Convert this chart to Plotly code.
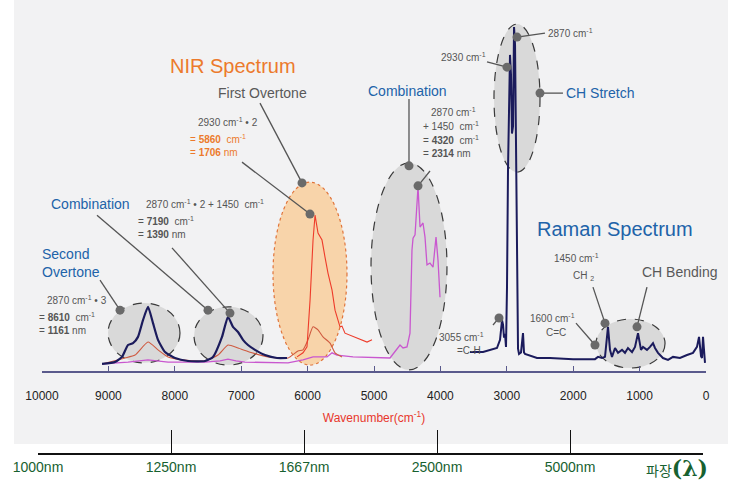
import plotly.graph_objects as go

# ---------------- data (wavenumber cm-1, relative intensity) ----------------
nir_navy_wn = [9096, 8900, 8795, 8705, 8629, 8554, 8479, 8403, 8328, 8253, 8147, 7997, 7801,
               7545, 7425, 7289, 7199, 7124, 7048, 6973, 6898, 6792, 6641, 6461, 6310]
nir_navy_int = [1.9, 2.4, 3.8, 7.0, 7.5, 9.2, 13.7, 17.3, 12.9, 8.4, 5.1, 3.5, 2.7,
                2.7, 3.8, 9.2, 14.6, 11.9, 10.5, 8.4, 7.0, 5.7, 4.3, 3.5, 3.5]

nir_brown_wn = [9096, 8750, 8599, 8403, 8253, 8102, 7891, 7545, 7349, 7199, 7048, 6837, 6596,
                6295, 6145, 6069, 5994, 5918, 5843, 5768, 5662, 5587, 5482]
nir_brown_int = [1.9, 3.5, 4.3, 7.8, 5.7, 3.8, 3.0, 2.7, 4.3, 7.0, 6.2, 4.9, 3.8,
                 3.5, 5.4, 5.7, 8.4, 11.9, 11.1, 9.2, 7.5, 4.9, 3.8]

nir_red_wn = [6160, 6069, 6009, 5963, 5918, 5888, 5843, 5783, 5738, 5693, 5632, 5587, 5512,
              5482, 5437, 5331, 5256, 5105, 5030]
nir_red_int = [3.8, 4.9, 6.5, 19.1, 35.3, 42.0, 37.2, 35.3, 30.7, 26.4, 21.8, 16.4, 11.9,
               12.1, 10.2, 9.4, 8.9, 7.8, 8.4]

nir_mag_wn = [9096, 8705, 8403, 8102, 7545, 7319, 7199, 7078, 6943, 6295, 6069, 5918, 5707,
              5632, 5557, 5316, 4759, 4684, 4608, 4563, 4503, 4458, 4428, 4412, 4382, 4337,
              4307, 4262, 4232, 4202, 4157, 4111, 4066, 4036, 4006]
nir_mag_int = [1.9, 2.4, 3.0, 2.4, 2.4, 2.7, 3.2, 2.7, 2.4, 2.2, 3.0, 3.8, 3.8,
               4.9, 4.3, 3.8, 3.5, 5.1, 7.0, 6.2, 6.5, 10.2, 32.6, 35.8, 36.7, 49.6,
               38.8, 39.9, 36.1, 28.6, 29.1, 28.0, 36.1, 29.9, 19.9]

raman_wn = [3554, 3358, 3148, 3102, 3072, 3057, 3042, 3027, 3012, 2997, 2982, 2967, 2952,
            2937, 2922, 2906, 2891, 2876, 2861, 2846, 2831, 2816, 2786, 2756, 2741, 2726,
            2681, 2545, 2349, 2003, 1672, 1626, 1566, 1521, 1476, 1446, 1416, 1370, 1325,
            1265, 1220, 1175, 1114, 1069, 1024, 979, 949, 889, 843, 798, 768, 723, 648,
            572, 497, 392, 286, 196, 136, 105, 75, 60, 45, 15]
raman_int = [5.1, 5.1, 6.2, 8.4, 13.7, 12.5, 9.0, 10.0, 6.5, 22.6, 54.2, 67.7, 85.2,
             80.0, 64.0, 66.0, 92.7, 88.0, 60.0, 25.0, 6.0, 4.6, 5.0, 10.2, 5.0, 4.6,
             4.3, 3.5, 3.5, 3.2, 3.2, 3.8, 3.5, 3.8, 11.9, 5.7, 3.8, 6.2, 4.9,
             5.7, 4.9, 6.2, 5.1, 6.5, 10.2, 5.7, 6.5, 5.7, 6.5, 7.5, 6.2, 4.9, 3.5,
             3.0, 3.8, 3.5, 4.3, 4.9, 6.5, 9.2, 4.0, 3.5, 9.2, 2.2]

wn_ticks = [10000, 9000, 8000, 7000, 6000, 5000, 4000, 3000, 2000, 1000, 0]
nm_ticks = [1000, 1250, 1667, 2500, 5000]

# ---------------- styles ----------------
FONT = "Liberation Sans, Arial, sans-serif"
BLUE = "#2163a9"
ORANGE = "#ec7a2c"
GRAY = "#555555"
NAVY = "#1b1b5c"
GREEN = "#176130"

fig = go.Figure()

def spec(x, y, color, width, shape="linear"):
    fig.add_trace(go.Scatter(x=x, y=y, mode="lines", hoverinfo="skip",
                             line=dict(color=color, width=width, shape=shape, smoothing=0.5)))

spec(nir_mag_wn, nir_mag_int, "#c957cf", 1.3)
spec(nir_brown_wn, nir_brown_int, "#cf5a40", 1.1, "spline")
spec(nir_red_wn, nir_red_int, "#ee3b2a", 1.1)
spec(nir_navy_wn, nir_navy_int, NAVY, 2.2, "spline")
spec(raman_wn, raman_int, NAVY, 2.0)

# callout leader lines: (from_x, from_y, dot_x, dot_y)
callouts = [
    (9126, 24.5, 8825, 16.4), (9172, 42.0, 7500, 16.4), (8042, 33.2, 7169, 15.6),
    (6717, 72.2, 6084, 50.7), (6988, 56.3, 5964, 42.3), (4473, 73.3, 4473, 55.3),
    (4157, 53.9, 4337, 49.9), (3298, 83.3, 2997, 81.9), (2425, 91.1, 2846, 90.0),
    (2154, 74.9, 2500, 74.9), (1702, 22.6, 1521, 12.9), (889, 22.6, 1039, 11.9),
    (1958, 12.9, 1672, 7.0), (3208, 12.4, 3117, 14.3),
]
lx, ly, dx, dy = [], [], [], []
for a, b, c, d in callouts:
    lx += [a, c, None]
    ly += [b, d, None]
    dx.append(c)
    dy.append(d)
fig.add_trace(go.Scatter(x=lx, y=ly, mode="lines", hoverinfo="skip",
                         line=dict(color="#555555", width=1.3)))
fig.add_trace(go.Scatter(x=dx, y=dy, mode="markers", hoverinfo="skip",
                         marker=dict(color="#6a6a6a", size=9)))

# invisible trace to create the nm (wavelength) axis
fig.add_trace(go.Scatter(x=[1e7 / n for n in nm_ticks], y=[0] * len(nm_ticks),
                         xaxis="x2", yaxis="y2",
                         mode="markers", marker=dict(opacity=0), hoverinfo="skip"))

shapes = [dict(type="rect", xref="paper", yref="paper", x0=-0.036, x1=1.033, y0=0.0199, y1=1.0,
               fillcolor="#f2f2f3", line=dict(width=0), layer="below")]
ellipses = [
    (9006, 7922, 18.3, 2.2, "#d9d9d9", "#3a3a3a", "dash"),
    (7711, 6672, 17.3, 1.6, "#d9d9d9", "#3a3a3a", "dash"),
    (6521, 5407, 50.9, 1.6, "#f8d4aa", "#e0743a", "dot"),
    (5045, 3901, 56.1, 0.3, "#d9d9d9", "#3a3a3a", "dash"),
    (3193, 2500, 93.5, 53.6, "#d9d9d9", "#3a3a3a", "dash"),
    (1657, 617, 14.0, 0.8, "#d9d9d9", "#3a3a3a", "dash"),
]
for x0, x1, y1, y0, fc, lc, dash in ellipses:
    shapes.append(dict(type="circle", xref="x", yref="y", x0=x0, x1=x1, y0=y0, y1=y1,
                       fillcolor=fc, line=dict(color=lc, width=1.2, dash=dash), layer="below"))

annotations = []
def ann(x, y, text, size=10, color=GRAY, xanchor="center", xshift=0):
    annotations.append(dict(x=x, y=y, xref="x", yref="y", text=text, showarrow=False,
                            xanchor=xanchor, yanchor="middle", align="left", xshift=xshift,
                            font=dict(family=FONT, size=size, color=color)))

CM = "cm<sup>-1</sup>"
ann(7123, 82.2, "NIR Spectrum", 20, ORANGE)
ann(6672, 74.9, "First Overtone", 14, "#595959")
ann(7681, 67.1, "2930 " + CM + " • 2", 10, GRAY, "left")
ann(7801, 62.5, "= <b>5860</b>  " + CM, 10, ORANGE, "left")
ann(7801, 59.0, "= <b>1706</b> nm", 10, ORANGE, "left")
ann(9277, 45.0, "Combination", 14, BLUE)
ann(8464, 45.0, "2870 " + CM + " • 2 + 1450  " + CM, 10, GRAY, "left")
ann(8584, 40.4, "= <b>7190</b>  " + CM, 10, GRAY, "left")
ann(8584, 36.7, "= <b>1390</b> nm", 10, GRAY, "left")
ann(10000, 29.1, "Second<br>Overtone", 14, BLUE, "left", -2)
ann(9955, 19.1, "2870 " + CM + " • 3", 10, GRAY, "left")
ann(10000, 14.6, "= <b>8610</b>  " + CM, 10, GRAY, "left", -5)
ann(10000, 10.8, "= <b>1161</b> nm", 10, GRAY, "left", -5)
ann(4503, 75.5, "Combination", 14, BLUE)
ann(4172, 69.8, "2870 " + CM, 10, GRAY, "left")
ann(4292, 66.0, "+ 1450  " + CM, 10, GRAY, "left")
ann(4292, 62.3, "= <b>4320</b>  " + CM, 10, GRAY, "left")
ann(4292, 58.5, "= <b>2314</b> nm", 10, GRAY, "left")
ann(4021, 84.6, "2930 " + CM, 10, GRAY, "left")
ann(2410, 91.1, "2870 " + CM, 10, GRAY, "left")
ann(2139, 74.9, "CH Stretch", 14, BLUE, "left")
ann(1370, 38.3, "Raman Spectrum", 20, BLUE)
ann(1943, 30.5, "1450 " + CM, 10, GRAY)
ann(1852, 25.6, "CH <sub>2</sub>", 10, GRAY)
ann(994, 26.7, "CH Bending", 14, "#595959", "left")
ann(2319, 14.3, "1600 " + CM, 10, GRAY)
ann(2259, 10.5, "C=C", 10, GRAY)
ann(3675, 9.2, "3055 " + CM, 10, GRAY)
ann(3569, 5.4, "=C-H", 10, GRAY)

annotations.append(dict(xref="paper", yref="paper", x=0.9566, y=-0.034, showarrow=False,
                        xanchor="center", yanchor="middle",
                        text="파장<span style=\"font-family:'DejaVu Serif';font-size:22px;font-weight:bold\">(λ)</span>",
                        font=dict(family="Noto Sans CJK KR", size=14, color=GREEN)))

fig.update_layout(
    width=733, height=484,
    margin=dict(l=38, r=27, t=0, b=31, pad=0),
    paper_bgcolor="white", plot_bgcolor="rgba(0,0,0,0)",
    showlegend=False,
    shapes=shapes, annotations=annotations,
    xaxis=dict(domain=[4 / 668, 1], range=[10000, 0], anchor="y",
               tickvals=wn_ticks, ticktext=[str(t) for t in wn_ticks],
               ticks="inside", ticklen=5, tickwidth=1.2, tickcolor="#5a5a8c",
               showline=True, linecolor="#5a5a8c", linewidth=1.5,
               showgrid=False, zeroline=False, ticklabelstandoff=13,
               tickfont=dict(family=FONT, size=12, color="#222222"),
               title=dict(text="Wavenumber(cm<sup>-1</sup>)", standoff=11,
                          font=dict(family=FONT, size=12, color="#e8372c"))),
    xaxis2=dict(domain=[0, 665 / 668], range=[10000, 0], anchor="y2",
                tickvals=[1e7 / n for n in nm_ticks] + [0],
                ticktext=[f"{n}nm" for n in nm_ticks] + [""],
                ticks="inside", ticklen=23, tickwidth=1.3, tickcolor="#111111",
                showline=True, linecolor="#111111", linewidth=1.5,
                showgrid=False, zeroline=False,
                tickfont=dict(family=FONT, size=14, color=GREEN)),
    yaxis=dict(domain=[82 / 453, 1], range=[0, 100], visible=False, fixedrange=True),
    yaxis2=dict(domain=[0, 82 / 453], range=[0, 1], visible=False, fixedrange=True),
)

fig.write_html("out.html", config={"displayModeBar": False},
               post_script="document.body.style.margin='0px';")
